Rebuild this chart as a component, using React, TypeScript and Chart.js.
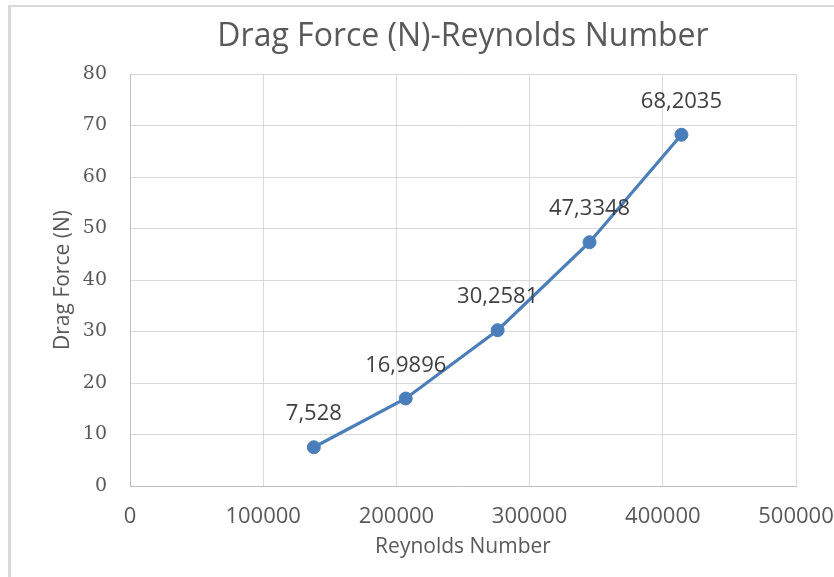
import React, { useEffect, useRef } from "react";
import { Chart, registerables } from "chart.js";

Chart.register(...registerables);

const reynoldsNumbers = [138000, 207000, 276000, 345000, 414000];
const dragForces = [7.528, 16.9896, 30.2581, 47.3348, 68.2035];
const pointLabels = ["7,528", "16,9896", "30,2581", "47,3348", "68,2035"];
const xTickValues = [0, 100000, 200000, 300000, 400000, 500000];
const yTickValues = [0, 10, 20, 30, 40, 50, 60, 70, 80];

const chartTitle = "Drag Force (N)-Reynolds Number";
const xTitle = "Reynolds Number";
const yTitle = "Drag Force (N)";

const SANS = "'Open Sans', 'DejaVu Sans', sans-serif";
const SERIF = "'DejaVu Serif', serif";

const labelPlugin = {
  id: "pointValueLabels",
  afterDatasetsDraw(chart: any) {
    const meta = chart.getDatasetMeta(0);
    const ctx = chart.ctx;
    ctx.save();
    ctx.font = `22px ${SANS}`;
    ctx.fillStyle = "#404040";
    ctx.textAlign = "center";
    ctx.textBaseline = "middle";
    meta.data.forEach((pt: any, i: number) => {
      ctx.fillText(pointLabels[i], pt.x, pt.y - 33);
    });
    ctx.restore();
  },
};

export default function App() {
  const canvasRef = useRef<HTMLCanvasElement | null>(null);

  useEffect(() => {
    if (!canvasRef.current) return;
    const chart = new Chart(canvasRef.current, {
      type: "scatter",
      data: {
        datasets: [
          {
            label: yTitle,
            data: reynoldsNumbers.map((x, i) => ({ x, y: dragForces[i] })),
            showLine: true,
            borderColor: "#4a7ebb",
            backgroundColor: "#4a7ebb",
            borderWidth: 3.2,
            pointRadius: 6.5,
            pointBackgroundColor: "#4a7ebb",
            pointBorderColor: "#4a7ebb",
            pointBorderWidth: 1,
            tension: 0,
          },
        ],
      },
      options: {
        responsive: false,
        animation: false,
        devicePixelRatio: 1,
        layout: { padding: { left: 0, right: 38, top: 0, bottom: 0 } },
        plugins: {
          legend: { display: false },
          tooltip: { enabled: false },
          title: {
            display: true,
            text: chartTitle,
            fullSize: false,
            color: "#595959",
            font: { family: SANS, size: 32, weight: "normal" },
            padding: { top: 18, bottom: 17.6 },
          },
        },
        scales: {
          x: {
            type: "linear",
            min: 0,
            max: 500000,
            afterBuildTicks: (scale: any) => {
              scale.ticks = xTickValues.map((v) => ({ value: v }));
            },
            afterFit: (scale: any) => {
              scale.height = 91;
              scale.paddingLeft = 0;
              scale.paddingRight = 0;
            },
            grid: { color: "#d9d9d9", lineWidth: 1, drawTicks: false },
            border: { color: "#bfbfbf", width: 1 },
            ticks: {
              color: "#595959",
              font: { family: SANS, size: 22 },
              padding: 18,
              maxRotation: 0,
              autoSkip: false,
              callback: (v: any) => String(v),
            },
            title: {
              display: true,
              text: xTitle,
              color: "#595959",
              font: { family: SANS, size: 21 },
              padding: { top: 0, bottom: 17 },
            },
          },
          y: {
            type: "linear",
            min: 0,
            max: 80,
            afterBuildTicks: (scale: any) => {
              scale.ticks = yTickValues.map((v) => ({ value: v }));
            },
            afterFit: (scale: any) => {
              scale.width = 130;
              scale.paddingTop = 0;
              scale.paddingBottom = 0;
            },
            grid: { color: "#d9d9d9", lineWidth: 1, drawTicks: false },
            border: { color: "#bfbfbf", width: 1 },
            ticks: {
              color: "#595959",
              font: { family: SERIF, size: 19 },
              padding: 23,
              autoSkip: false,
              callback: (v: any) => String(v),
            },
            title: {
              display: true,
              text: yTitle,
              color: "#595959",
              font: { family: SANS, size: 21 },
              padding: { top: 50, bottom: 0 },
            },
          },
        },
      },
      plugins: [labelPlugin],
    });
    return () => chart.destroy();
  }, []);

  return (
    <div
      style={{
        position: "fixed",
        left: 0,
        top: 0,
        width: 834,
        height: 577,
        background: "#ffffff",
        overflow: "hidden",
      }}
    >
      <canvas
        ref={canvasRef}
        width={834}
        height={577}
        style={{ position: "absolute", left: 0, top: 0, width: 834, height: 577 }}
      />
      <div
        style={{
          position: "absolute",
          left: 8,
          top: 5,
          width: 826,
          height: 2,
          background: "#d9d9d9",
        }}
      />
      <div
        style={{
          position: "absolute",
          left: 8,
          top: 5,
          width: 3,
          height: 572,
          background: "#d9d9d9",
        }}
      />
    </div>
  );
}
